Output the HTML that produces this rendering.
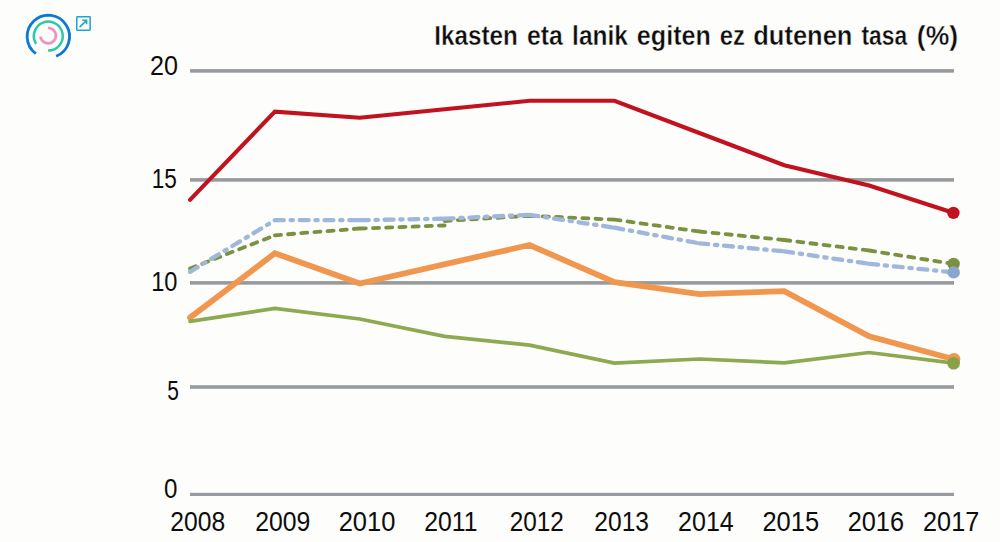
<!DOCTYPE html>
<html><head><meta charset="utf-8"><style>
html,body{margin:0;padding:0;background:#fdfdfb;}
body{width:1000px;height:542px;overflow:hidden;position:relative;}
svg{position:absolute;left:0;top:0;}
.ax{font-family:"Liberation Sans",sans-serif;font-size:27px;fill:#0d0d0d;}
.ti{font-family:"Liberation Sans",sans-serif;font-size:27.5px;font-weight:bold;fill:#0d0d0d;stroke:#fdfdfb;stroke-width:0.4px;paint-order:fill stroke;}
</style></head><body>
<svg width="1000" height="542" viewBox="0 0 1000 542">
<path d="M35.90 53.65 A21.2 21.2 0 1 1 56.13 56.22" fill="none" stroke="#0c78d4" stroke-width="2.8" stroke-linecap="butt"/>
<path d="M36.11 43.86 A14.45 14.45 0 1 1 48.05 50.55" fill="none" stroke="#2ac9a9" stroke-width="2.5" stroke-linecap="butt"/>
<path d="M48.10 27.80 A7.8 7.8 0 1 1 40.38 36.69" fill="none" stroke="#ee94bf" stroke-width="2.8" stroke-linecap="butt"/>
<rect x="76.75" y="16.65" width="13.4" height="13.5" rx="0.7" fill="none" stroke="#1ea5cf" stroke-width="1.5"/>
<path d="M79.6 27.1 L86.3 20.6 M82.3 20.3 L86.6 20.3 L86.6 24.3" fill="none" stroke="#1ea5cf" stroke-width="1.6"/>
<rect x="190" y="69.10" width="764" height="3.6" fill="#979b9e"/>
<rect x="190" y="178.10" width="764" height="3.6" fill="#979b9e"/>
<rect x="190" y="281.10" width="764" height="3.6" fill="#979b9e"/>
<rect x="190" y="385.20" width="764" height="3.6" fill="#979b9e"/>
<rect x="190" y="492.80" width="764" height="3.2" fill="#979b9e"/>
<path d="M190.00 317.60 L274.89 253.20 L359.78 283.50 L529.56 245.00 L614.44 282.20 L699.33 294.10 L784.22 291.20 L869.11 336.40 L954.00 359.30" fill="none" stroke="#f1964f" stroke-width="5.8" stroke-linejoin="miter" stroke-linecap="round"/>
<circle cx="954" cy="359.3" r="6.3" fill="#f1964f"/>
<path d="M190.00 321.30 L274.89 308.40 L359.78 319.00 L444.67 336.40 L529.56 345.10 L614.44 363.10 L699.33 359.00 L784.22 362.80 L869.11 352.50 L954.00 363.20" fill="none" stroke="#8ea950" stroke-width="3.7" stroke-linejoin="miter" stroke-linecap="round"/>
<circle cx="953.6" cy="363.2" r="6.3" fill="#87a148"/>
<path d="M190.00 268.50 L274.89 235.30 M274.89 235.30 L359.78 228.50 M359.78 228.50 L444.67 225.50 M444.67 221.00 L529.56 215.80 M529.56 215.80 L614.44 219.60 M614.44 219.60 L699.33 231.50 M699.33 231.50 L784.22 240.00 M784.22 240.00 L869.11 250.50 M869.11 250.50 L954.00 264.00" fill="none" stroke="#7b9140" stroke-width="3.8" stroke-linecap="round" stroke-dasharray="6.1 7.1"/>
<circle cx="953.6" cy="264" r="6.2" fill="#7b9140"/>
<path d="M190.00 271.80 L274.89 220.20 M274.89 220.20 L359.78 220.20 M359.78 220.20 L444.67 218.70 M444.67 218.70 L529.56 214.80 M529.56 214.80 L614.44 227.70 M614.44 227.70 L699.33 243.30 M699.33 243.30 L784.22 251.40 M784.22 251.40 L869.11 263.80 M869.11 263.80 L954.00 272.40" fill="none" stroke="#9fb7da" stroke-width="4.3" stroke-linecap="round" stroke-dasharray="8.9 6.8 2.3 6.8"/>
<circle cx="953.7" cy="272.4" r="6.2" fill="#8aa6cf"/>
<path d="M190.00 199.80 L274.89 111.60 L359.78 117.70 L444.67 109.30 L529.56 100.80 L614.44 100.80 L699.33 133.00 L784.22 165.20 L869.11 185.50 L954.00 213.00" fill="none" stroke="#c1121f" stroke-width="4.1" stroke-linejoin="miter" stroke-linecap="round"/>
<circle cx="953.4" cy="212.9" r="6.2" fill="#c1121f"/>
<text transform="translate(150.03,74.8) scale(0.931,1)" class="ax">20</text>
<text transform="translate(151.63,187.8) scale(0.8359,1)" class="ax">15</text>
<text transform="translate(151.18,290.5) scale(0.8754,1)" class="ax">10</text>
<text transform="translate(167.22,399.5) scale(0.7756,1)" class="ax">5</text>
<text transform="translate(164.03,497.5) scale(0.8943,1)" class="ax">0</text>
<text transform="translate(170.29,530.8) scale(0.9141,1)" class="ax">2008</text>
<text transform="translate(255.29,530.8) scale(0.9176,1)" class="ax">2009</text>
<text transform="translate(338.66,530.8) scale(0.9443,1)" class="ax">2010</text>
<text transform="translate(424.3,530.8) scale(0.9179,1)" class="ax">2011</text>
<text transform="translate(509.69,530.8) scale(0.902,1)" class="ax">2012</text>
<text transform="translate(594.3,530.8) scale(0.9105,1)" class="ax">2013</text>
<text transform="translate(678.07,530.8) scale(0.9271,1)" class="ax">2014</text>
<text transform="translate(762.41,530.8) scale(0.9443,1)" class="ax">2015</text>
<text transform="translate(847.63,530.8) scale(0.9391,1)" class="ax">2016</text>
<text transform="translate(923.07,530.8) scale(0.9346,1)" class="ax">2017</text>
<text transform="translate(434.28,45.2) scale(0.8807,1)" class="ti">Ikasten</text>
<text transform="translate(526.88,45.2) scale(0.9,1)" class="ti">eta</text>
<text transform="translate(572.11,45.2) scale(0.8904,1)" class="ti">lanik</text>
<text transform="translate(636.86,45.2) scale(0.9141,1)" class="ti">egiten</text>
<text transform="translate(719.81,45.2) scale(0.867,1)" class="ti">ez</text>
<text transform="translate(753.21,45.2) scale(0.9284,1)" class="ti">dutenen</text>
<text transform="translate(861.53,45.2) scale(0.829,1)" class="ti">tasa</text>
<text transform="translate(916.83,45.2) scale(0.9662,1)" class="ti">(%)</text>
</svg>
</body></html>
